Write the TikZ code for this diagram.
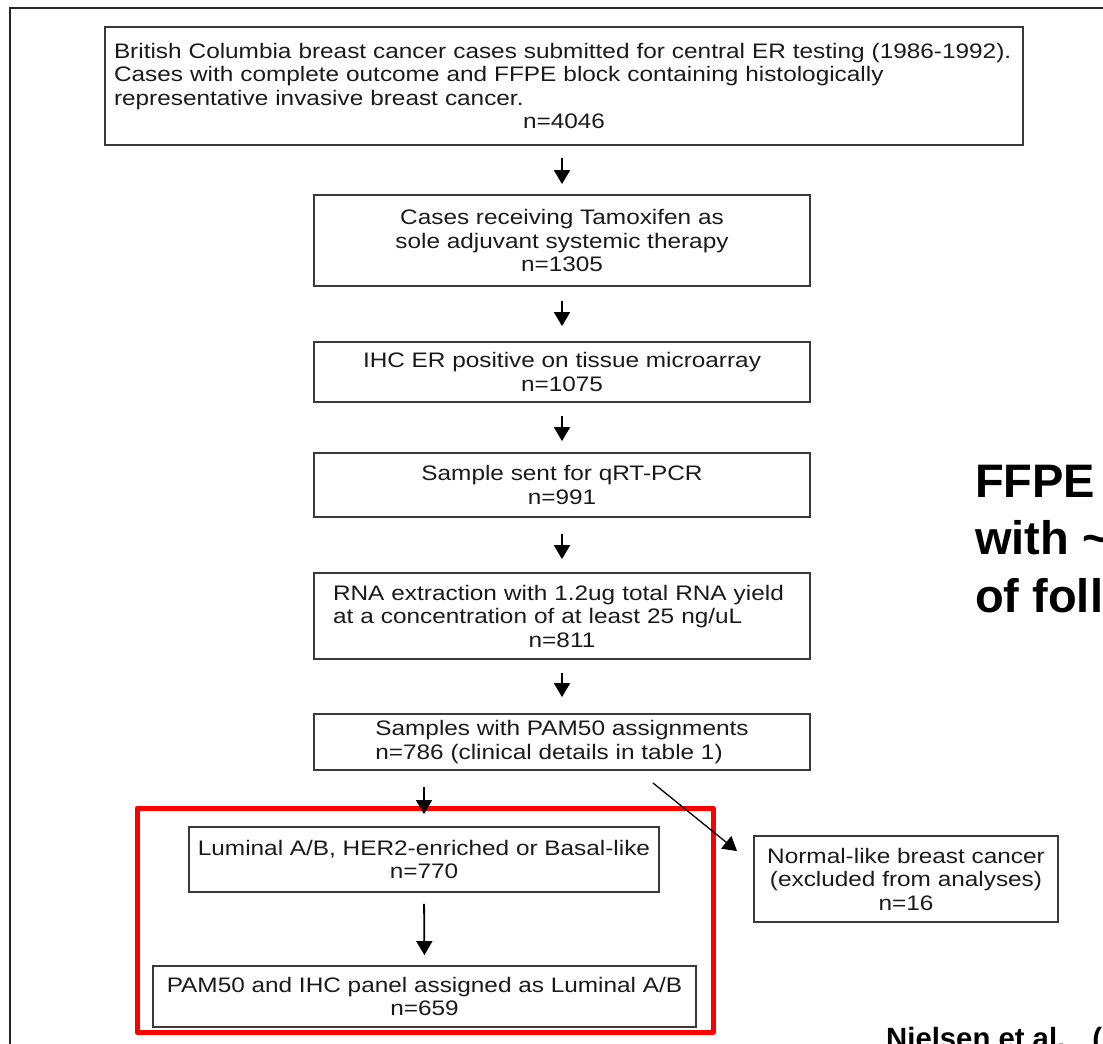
\documentclass[tikz,border=0pt]{standalone}
\usepackage{fontspec}
\setmainfont{Liberation Sans}
\newfontfamily\bodyfont[FakeStretch=1.16]{Liberation Sans}
\usetikzlibrary{arrows.meta}
\definecolor{boxgray}{HTML}{3A3A3A}
\definecolor{textgray}{HTML}{1A1A1A}
\definecolor{hlred}{HTML}{FF0000}
\begin{document}
\begin{tikzpicture}[x=1pt,y=-1pt,
  box/.style={draw=boxgray, line width=1.8pt, inner sep=0pt, text=textgray,
    font={\bodyfont\fontsize{21}{23.5}\selectfont}},
  arr/.style={draw=black, line width=1.8pt, -{Triangle[length=14pt,width=16pt]}},
  thinarr/.style={draw=black, line width=1.3pt, -{Triangle[length=14pt,width=16pt]}},
  big/.style={font={\bfseries\fontsize{47}{57.5}\selectfont}, text=black, inner sep=0pt, align=left},
  cite/.style={font={\bfseries\fontsize{29.3}{32}\selectfont}, text=black, inner sep=0pt},
  frameline/.style={draw=black!85, line width=2.4pt},
  hlbox/.style={draw=hlred, line width=5pt, line join=round},
]
\useasboundingbox (0,0) rectangle (1103,1044);
\clip (0,0) rectangle (1103,1044);

% slide frame
\draw[frameline] (10,1060) -- (10,8) -- (1120,8);

% boxes
\node[box, minimum width=918pt, minimum height=118pt, text width=900pt, align=left] (b1) at (564,86)
  {British Columbia breast cancer cases submitted for central ER testing (1986-1992).\\
   Cases with complete outcome and FFPE block containing histologically\\
   representative invasive breast cancer.\\
   \hspace*{\fill}n=4046\hspace*{\fill}};
\node[box, minimum width=496pt, minimum height=91pt, align=center] (b2) at (562,240.5)
  {Cases receiving Tamoxifen as\\ sole adjuvant systemic therapy\\ n=1305};
\node[box, minimum width=496pt, minimum height=60pt, align=center] (b3) at (562,372)
  {IHC ER positive on tissue microarray\\ n=1075};
\node[box, minimum width=496pt, minimum height=64pt, align=center] (b4) at (562,485)
  {Sample sent for qRT-PCR\\ n=991};
\node[box, minimum width=496pt, minimum height=86pt, text width=458pt, align=left] (b5) at (562,616)
  {RNA extraction with 1.2ug total RNA yield\\
   at a concentration of at least 25 ng/uL\\
   \hspace*{\fill}n=811\hspace*{\fill}};
\node[box, minimum width=496pt, minimum height=56pt, align=left] (b6) at (562,742)
  {Samples with PAM50 assignments\\ n=786 (clinical details in table 1)};
\node[box, minimum width=470pt, minimum height=65pt, align=center] (b7) at (424,859.5)
  {Luminal A/B, HER2-enriched or Basal-like\\ n=770};
\node[box, minimum width=543pt, minimum height=61pt, align=center] (b8) at (424.5,996.5)
  {PAM50 and IHC panel assigned as Luminal A/B\\ n=659};
\node[box, minimum width=304pt, minimum height=86pt, align=center] (b9) at (906,879)
  {Normal-like breast cancer\\ (excluded from analyses)\\ n=16};

% highlight
\draw[hlbox] (137,808) rectangle (713,1032);

% arrows
\draw[arr, shorten <=12pt, shorten >=10pt] (b1.south -| b2.north) -- (b2.north);
\draw[arr, shorten <=14pt, shorten >=15pt] (b2.south) -- (b3.north);
\draw[arr, shorten <=13pt, shorten >=11pt] (b3.south) -- (b4.north);
\draw[arr, shorten <=16pt, shorten >=13pt] (b4.south) -- (b5.north);
\draw[arr, shorten <=13pt, shorten >=16pt] (b5.south) -- (b6.north);
\draw[thinarr, shorten <=16pt, shorten >=12pt] (b6.south -| b7.north) -- (b7.north);
\draw[arr, shorten <=11pt, shorten >=10pt] (b7.south) -- (b8.north);
\draw[thinarr] ([xshift=-158pt,yshift=-12pt]b6.south east) -- ([xshift=-16pt,yshift=-16pt]b9.north west);

% side texts (cut by the slide edge, as in the reference)
\node[big, anchor=base west] (ffpe) at (975,612) {FFPE samples\\ with \textasciitilde\ 15 years\\ of follow-up};
\node[cite, anchor=base west] (cit) at (886,1048) {Nielsen et al.\hspace{27pt}(2010)};
\end{tikzpicture}
\end{document}
